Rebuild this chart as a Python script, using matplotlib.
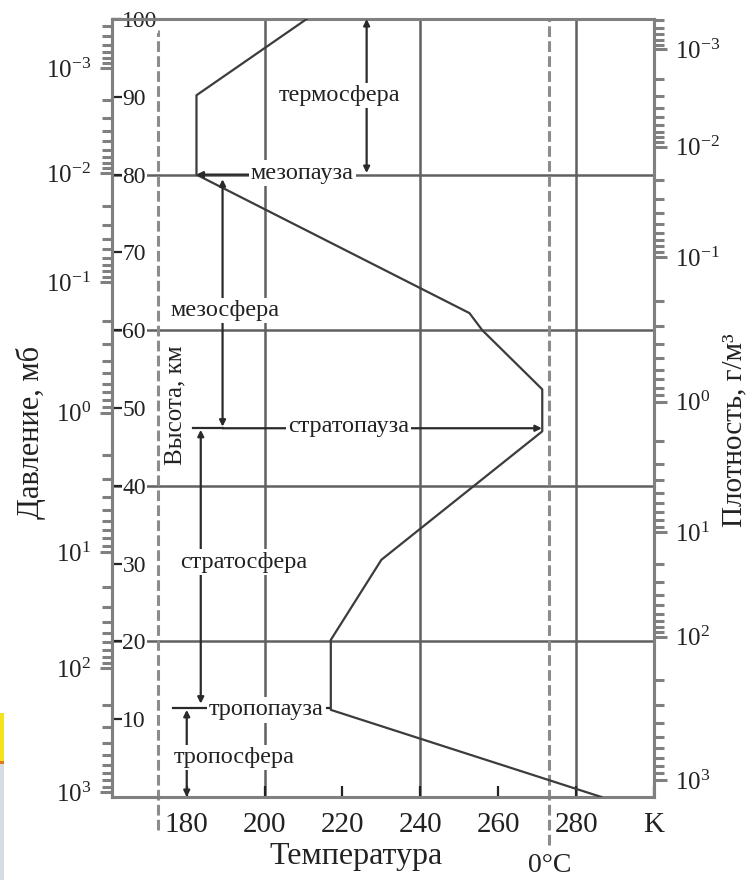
"""
Вертикальная структура атмосферы: температура, давление, плотность
"""

import numpy as np
import matplotlib.pyplot as plt
import matplotlib.transforms as mtransforms
from matplotlib.patches import Rectangle

plt.rcParams['font.family'] = ['Liberation Serif', 'DejaVu Serif']
plt.rcParams['mathtext.fontset'] = 'custom'
plt.rcParams['mathtext.rm'] = 'Liberation Serif'
plt.rcParams['mathtext.it'] = 'Liberation Serif:italic'

# температурный профиль (К) по высоте (км)
temp_k = [286.5, 217.0, 217.0, 230.0, 271.3, 271.3, 255.9, 252.6, 182.5, 182.5, 210.8]
alt_km = [0.0, 11.2, 20.2, 30.5, 47.0, 52.4, 60.0, 62.2, 80.0, 90.2, 100.0]

# декады давления (мб) и высоты, на которых они стоят на левой шкале
p_exp = [3, 2, 1, 0, -1, -2, -3]
p_alt = [0.6, 16.6, 31.5, 49.4, 66.2, 80.2, 93.7]

# декады плотности (г/м3), правая шкала
rho_exp = [3, 2, 1, 0, -1, -2, -3]
rho_alt = [2.2, 20.6, 34.0, 50.8, 69.4, 83.6, 96.1]

alt_ticks = [10, 20, 30, 40, 50, 60, 70, 80, 90, 100]
temp_ticks = [180, 200, 220, 240, 260, 280, 300]
temp_labels = ['180', '200', '220', '240', '260', '280', 'K']
grid_temps = [200, 240, 280]
grid_alts = [20, 40, 60, 80]


def scale_pos(logv, exps, alts):
    e = np.array(exps[::-1], float)
    a = np.array(alts[::-1], float)
    logv = np.atleast_1d(np.asarray(logv, float))
    out = np.interp(logv, e, a)
    lo = logv < e[0]
    out[lo] = a[0] + (logv[lo] - e[0]) * (a[1] - a[0]) / (e[1] - e[0])
    hi = logv > e[-1]
    out[hi] = a[-1] + (logv[hi] - e[-1]) * (a[-1] - a[-2]) / (e[-1] - e[-2])
    return out


def minor_pos(exps, alts):
    logs = [k + np.log10(m) for k in range(-5, 4) for m in range(2, 10)]
    pos = scale_pos(logs, exps, alts)
    return pos[(pos > 0) & (pos < 100)]


def power_labels(exps):
    return ['$10^{%d}$' % e for e in exps]


INK = '#222222'
SPINE = '#808080'
GRID = '#606060'
DASH = '#8c8c8c'

fig = plt.figure(figsize=(7.54, 8.8), dpi=100)
ax = fig.add_axes([0.1485, 0.0943, 0.7189, 0.8841])
ax.set_xlim(160.8, 299.8)
ax.set_ylim(0, 100)

for s in ax.spines.values():
    s.set_color(SPINE)
    s.set_linewidth(2.2)

# сетка
for t in grid_temps:
    ax.axvline(t, color=GRID, lw=1.8, zorder=1)
for a in grid_alts:
    ax.axhline(a, color=GRID, lw=1.8, zorder=1)

# пунктиры
ax.axvline(172.6, ymin=-0.042, ymax=0.986, color=DASH, lw=2.2,
           ls=(0, (3.5, 1.4)), clip_on=False, zorder=1)
ax.axvline(273.15, ymin=-0.062, ymax=1.0, color=DASH, lw=2.2,
           ls=(0, (3.5, 1.4)), clip_on=False, zorder=1)

# профиль температуры
ax.plot(temp_k, alt_km, color='#3c3c3c', lw=1.6, zorder=3)

# высота -- внутри слева
ax.set_yticks(alt_ticks, labels=[str(a) for a in alt_ticks])
ax.tick_params(axis='y', direction='in', length=7, width=1.6, color=INK,
               pad=-7.5, labelsize=17, labelcolor=INK)
for lbl in ax.get_yticklabels():
    lbl.set_ha('left')
    lbl.set_bbox(dict(facecolor='white', edgecolor='none', pad=0.5))

# температура снизу
ax.set_xticks(temp_ticks, labels=temp_labels)
ax.tick_params(axis='x', direction='in', length=8, width=1.6, color=INK,
               pad=11, labelsize=21, labelcolor=INK)

# давление слева
pax = ax.secondary_yaxis('left')
pax.set_yticks(scale_pos(p_exp, p_exp, p_alt), labels=power_labels(p_exp))
pax.set_yticks(minor_pos(p_exp, p_alt), minor=True)
pax.tick_params(which='both', direction='out', width=2.2, color=SPINE,
                labelsize=18, labelcolor=INK, pad=6)
pax.tick_params(which='major', length=9)
pax.tick_params(which='minor', length=7)
pax.spines['left'].set_color(SPINE)
pax.spines['left'].set_linewidth(2.2)
pax.set_ylabel('Давление, мб', fontsize=22, color=INK)
pax.yaxis.set_label_coords(-0.122, 0.469, transform=ax.transAxes)

# плотность справа
rax = ax.secondary_yaxis('right')
rax.set_yticks(scale_pos(rho_exp, rho_exp, rho_alt), labels=power_labels(rho_exp))
rax.set_yticks(minor_pos(rho_exp, rho_alt), minor=True)
rax.tick_params(which='both', direction='out', width=2.2, color=SPINE,
                labelsize=18, labelcolor=INK, pad=6)
rax.tick_params(which='major', length=9)
rax.tick_params(which='minor', length=7)
rax.spines['right'].set_color(SPINE)
rax.spines['right'].set_linewidth(2.2)
rax.set_ylabel('Плотность, г/м³', fontsize=21, color=INK)
rax.yaxis.set_label_coords(1.124, 0.472, transform=ax.transAxes)

# стрелки и подписи слоёв
arrow = dict(arrowstyle='<|-|>', color='#2a2a2a', lw=1.6, shrinkA=0, shrinkB=0,
             mutation_scale=9)
one_way = dict(arrowstyle='-|>', color='#2a2a2a', lw=1.6, shrinkA=0, shrinkB=0,
               mutation_scale=9)
white = dict(facecolor='white', edgecolor='none', pad=1.5)
tkw = dict(fontsize=17.5, color=INK, ha='center', va='center', zorder=5, bbox=white)

ax.annotate('', xy=(226.2, 100), xytext=(226.2, 80.2), arrowprops=arrow, zorder=4)
ax.text(219.2, 90.2, 'термосфера', **tkw)

ax.annotate('', xy=(182.5, 80), xytext=(210, 80), arrowprops=one_way, zorder=4)
ax.text(209.7, 80.2, 'мезопауза', **tkw)

ax.annotate('', xy=(189.2, 79.4), xytext=(189.2, 47.6), arrowprops=arrow, zorder=4)
ax.text(189.8, 62.5, 'мезосфера', **tkw)

ax.plot([181.5, 189.2], [47.4, 47.4], color='#2a2a2a', lw=1.6, zorder=4)
ax.annotate('', xy=(271.2, 47.4), xytext=(189.2, 47.4), arrowprops=one_way, zorder=4)
ax.text(221.5, 47.6, 'стратопауза', **tkw)

ax.annotate('', xy=(183.6, 47.2), xytext=(183.6, 12.0), arrowprops=arrow, zorder=4)
ax.text(194.6, 30.2, 'стратосфера', **tkw)

ax.plot([176.4, 216.5], [11.4, 11.4], color='#2a2a2a', lw=1.6, zorder=4)
ax.text(200.4, 11.2, 'тропопауза', **tkw)

ax.annotate('', xy=(180.0, 11.2), xytext=(180.0, 0.0), arrowprops=arrow, zorder=4)
ax.text(192.3, 5.1, 'тропосфера', **tkw)

ax.text(177.2, 50.4, 'Высота, км', fontsize=18, color=INK, rotation=90,
        ha='center', va='center', zorder=5)

# подписи оси температуры
ax.text(0.45, -0.077, 'Температура', transform=ax.transAxes, fontsize=23,
        color=INK, ha='center', va='center')
trans = mtransforms.blended_transform_factory(ax.transData, ax.transAxes)
ax.text(273.15, -0.088, '0°C', transform=trans, fontsize=20, color=INK,
        ha='center', va='center')

# обрезок соседнего рисунка у левого края
fig.add_artist(Rectangle((0, 0.135), 0.005, 0.055, transform=fig.transFigure,
                         facecolor='#f4e21c', edgecolor='none'))
fig.add_artist(Rectangle((0, 0.0), 0.005, 0.132, transform=fig.transFigure,
                         facecolor='#d6dde2', edgecolor='none'))
fig.add_artist(Rectangle((0, 0.132), 0.005, 0.003, transform=fig.transFigure,
                         facecolor='#e07a20', edgecolor='none'))

fig.savefig('out.png', dpi=100)
